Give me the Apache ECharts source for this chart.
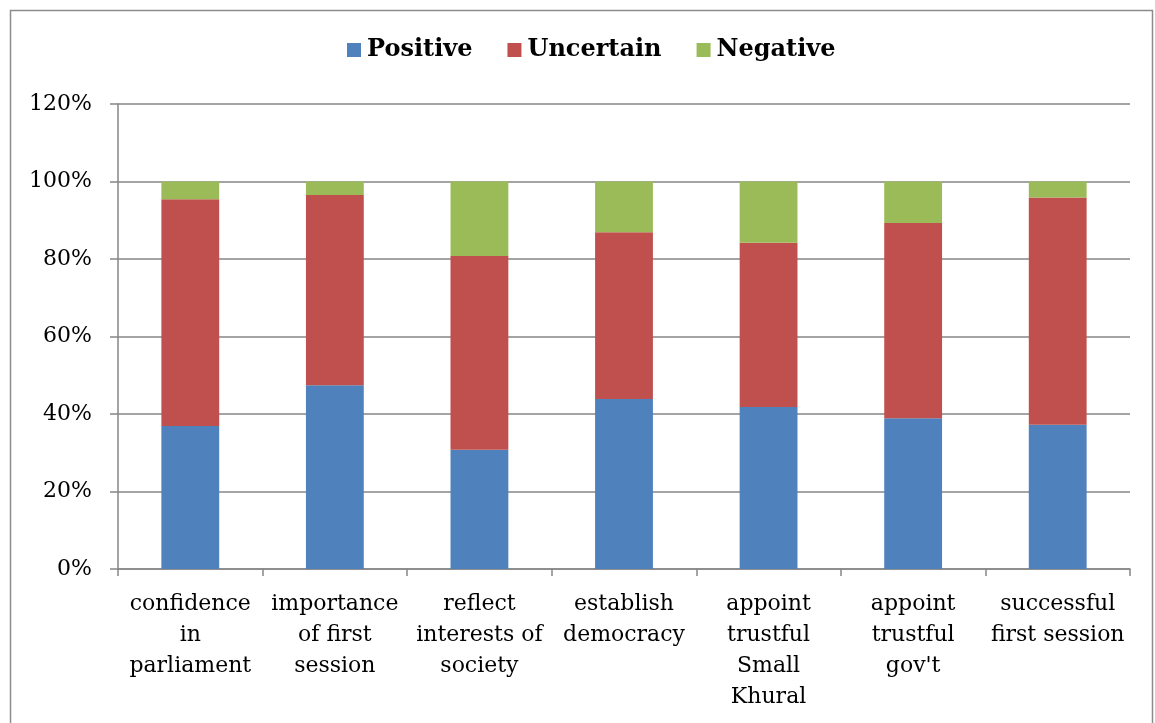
<!DOCTYPE html>
<html>
<head>
<meta charset="utf-8">
<script src="https://cdn.jsdelivr.net/npm/echarts@6/dist/echarts.min.js"></script>
<style>
html,body{margin:0;padding:0;background:#fff;}
#c{width:1155px;height:723px;}
</style>
</head>
<body>
<div id="c"></div>
<script>
const categories = ["confidence\nin\nparliament", "importance\nof first\nsession", "reflect\ninterests of\nsociety", "establish\ndemocracy", "appoint\ntrustful\nSmall\nKhural", "appoint\ntrustful\ngov't", "successful\nfirst session"];
const positive = [36.9, 47.4, 30.8, 43.9, 41.8, 38.9, 37.2];
const uncertain = [58.5, 49.1, 50.0, 43.0, 42.4, 50.4, 58.7];
const negative = [4.6, 3.5, 19.2, 13.1, 15.8, 10.7, 4.1];
const seriesNames = ["Positive", "Uncertain", "Negative"];
const colors = ["#4F81BD", "#C0504D", "#9BBB59"];

const font = "'DejaVu Serif', serif";
const chart = echarts.init(document.getElementById('c'));
const datasets = [positive, uncertain, negative];
chart.setOption({
  animation: false,
  graphic: [{
    type: 'rect', left: 8, top: 8,
    shape: {width: 1142, height: 730},
    style: {fill: 'none', stroke: '#8c8c8c', lineWidth: 1.5},
    silent: true
  }],
  legend: {
    top: 33, left: 342,
    itemWidth: 14, itemHeight: 14, itemGap: 35,
    icon: 'rect',
    textStyle: {fontFamily: font, fontWeight: 'bold', fontSize: 24, color: '#000', padding: [0,0,0,1]},
    data: seriesNames
  },
  grid: {left: 118, right: 25, top: 104, bottom: 154},
  xAxis: {
    type: 'category', data: categories,
    axisLine: {lineStyle: {color: '#868686', width: 1.5}},
    axisTick: {show: true, length: 7, lineStyle: {color: '#868686', width: 1.5}},
    axisLabel: {fontFamily: font, fontSize: 22, color: '#000', lineHeight: 31, margin: 20, interval: 0}
  },
  yAxis: {
    type: 'value', min: 0, max: 120, interval: 20,
    axisLine: {show: true, lineStyle: {color: '#868686', width: 1.5}},
    axisTick: {show: true, length: 8, lineStyle: {color: '#868686', width: 1.5}},
    splitLine: {lineStyle: {color: '#868686', width: 1.5}},
    axisLabel: {fontFamily: font, fontSize: 22, color: '#000', margin: 26, formatter: v => v + '%'}
  },
  series: seriesNames.map((n, i) => ({
    name: n, type: 'bar', stack: 'total',
    data: datasets[i],
    barWidth: '40%',
    itemStyle: {color: colors[i]}
  }))
});
</script>
</body>
</html>
